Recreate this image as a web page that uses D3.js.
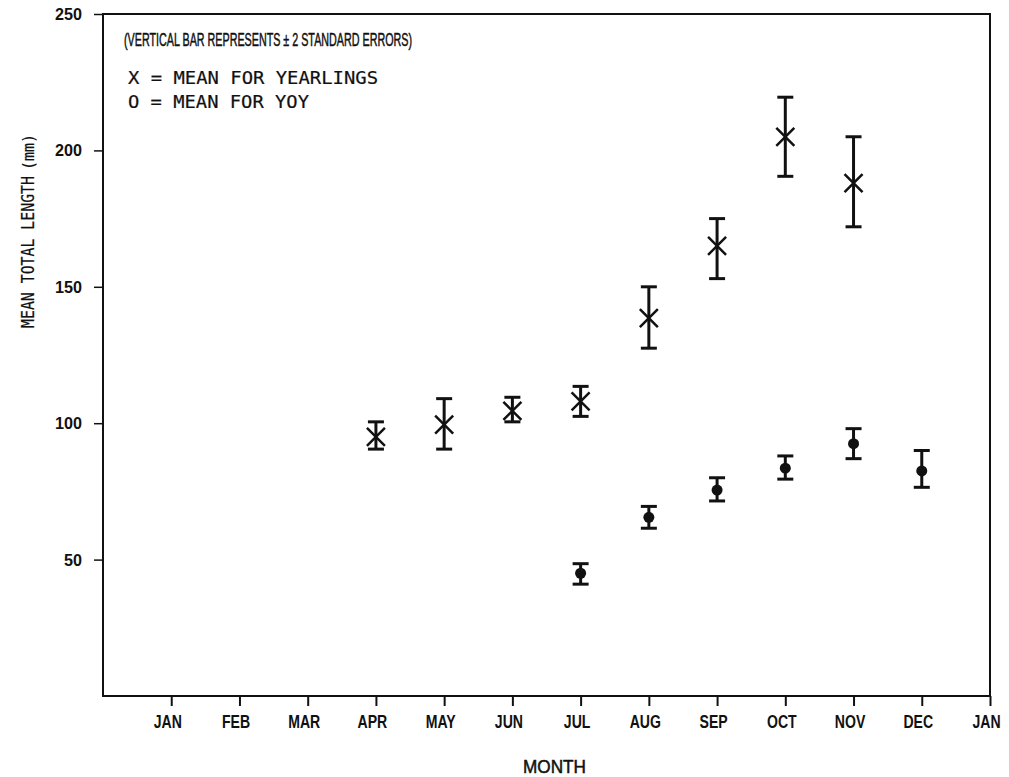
<!DOCTYPE html>
<html>
<head>
<meta charset="utf-8">
<script src="https://cdn.jsdelivr.net/npm/d3@7/dist/d3.min.js"></script>
<style>
  body { margin: 0; background: #fff; }
  text { fill: #111; }
  .inked { stroke: #111; stroke-width: 0.5px; }
  .inked-lite { stroke: #111; stroke-width: 0.2px; }
</style>
</head>
<body>
<svg width="1009" height="777"></svg>
<script>
// month labels along the bottom (12 months + the next JAN)
const months = ['JAN', 'FEB', 'MAR', 'APR', 'MAY', 'JUN', 'JUL', 'AUG', 'SEP', 'OCT', 'NOV', 'DEC', 'JAN'];
const yTicks = [50, 100, 150, 200, 250];

// yearlings (X)
const yearMonths = ['APR', 'MAY', 'JUN', 'JUL', 'AUG', 'SEP', 'OCT', 'NOV'];
const yearMean = [95, 99.5, 104.5, 108, 138.5, 165, 205, 188];
const yearLow = [90.5, 90.5, 100.5, 102.5, 127.5, 153, 190.5, 172];
const yearHigh = [100.5, 109, 109.5, 113.5, 150, 175, 219.5, 205];

// young of year (O)
const yoyMonths = ['JUL', 'AUG', 'SEP', 'OCT', 'NOV', 'DEC'];
const yoyMean = [45, 65.5, 75.5, 83.5, 92.5, 82.5];
const yoyLow = [41, 61.5, 71.5, 79.5, 87, 76.5];
const yoyHigh = [48.5, 69.5, 80, 88, 98, 90];

const svg = d3.select('svg');

const x = d3.scaleLinear().domain([-1, 12]).range([103, 990]);
const y = d3.scaleLinear().domain([0, 250]).range([696, 14]);

const ink = '#111';
const sans = 'Liberation Sans, Arial, sans-serif';
const mono = 'DejaVu Sans Mono, monospace';

// frame
svg.append('rect')
    .attr('x', x(-1))
    .attr('y', y(250))
    .attr('width', x(12) - x(-1))
    .attr('height', y(0) - y(250))
    .attr('fill', 'none')
    .attr('stroke', ink)
    .attr('stroke-width', 2);

// x axis
const xAxis = svg.append('g')
    .attr('transform', `translate(0,${y(0)})`)
    .call(d3.axisBottom(x)
        .tickValues(d3.range(13))
        .tickFormat(i => months[i])
        .tickSize(10)
        .tickPadding(9));
xAxis.select('.domain').remove();
xAxis.selectAll('line').attr('stroke', ink).attr('stroke-width', 2);
xAxis.selectAll('text')
    .attr('fill', ink)
    .attr('dx', -4)
    .style('font-family', sans)
    .style('font-size', '19px')
    .style('font-weight', 'bold')
    .each(function () {
        const w = this.getComputedTextLength();
        d3.select(this).attr('textLength', w * 0.74).attr('lengthAdjust', 'spacingAndGlyphs');
    });

// y axis
const yAxis = svg.append('g')
    .attr('transform', `translate(${x(-1)},0)`)
    .call(d3.axisLeft(y)
        .tickValues(yTicks)
        .tickSize(9)
        .tickPadding(12));
yAxis.select('.domain').remove();
yAxis.selectAll('line').attr('stroke', ink).attr('stroke-width', 1.5);
yAxis.selectAll('text')
    .attr('fill', ink)
    .style('font-family', sans)
    .style('font-size', '17px')
    .style('font-weight', 'bold')
    .each(function () {
        d3.select(this).attr('textLength', 27).attr('lengthAdjust', 'spacingAndGlyphs');
    });
yAxis.selectAll('.tick').filter(d => d === 50).select('text')
    .attr('textLength', 18);

// axis titles
svg.append('text')
    .attr('class', 'inked')
    .attr('x', (x(-1) + x(12)) / 2 + 8)
    .attr('y', 773)
    .attr('text-anchor', 'middle')
    .style('font-family', sans)
    .style('font-size', '18px')
    .attr('textLength', 63)
    .attr('lengthAdjust', 'spacingAndGlyphs')
    .text('MONTH');

const yTitle = svg.append('text')
    .attr('class', 'inked-lite')
    .attr('transform', 'translate(34,328) rotate(-90)')
    .style('font-family', mono)
    .style('font-size', '18px');
yTitle.append('tspan')
    .attr('textLength', 152)
    .attr('lengthAdjust', 'spacingAndGlyphs')
    .text('MEAN TOTAL LENGTH');
yTitle.append('tspan')
    .attr('dx', 6)
    .style('font-size', '15px')
    .text('(mm)');

// legend / notes
svg.append('text')
    .attr('class', 'inked')
    .attr('x', 124)
    .attr('y', 46)
    .style('font-family', sans)
    .style('font-size', '18px')
    .attr('textLength', 288)
    .attr('lengthAdjust', 'spacingAndGlyphs')
    .text('(VERTICAL BAR REPRESENTS \u00b1 2 STANDARD ERRORS)');

svg.append('text')
    .attr('class', 'inked-lite')
    .attr('x', 128)
    .attr('y', 84)
    .style('font-family', mono)
    .style('font-size', '17px')
    .attr('textLength', 250)
    .attr('lengthAdjust', 'spacingAndGlyphs')
    .text('X = MEAN FOR YEARLINGS');

svg.append('text')
    .attr('class', 'inked-lite')
    .attr('x', 128)
    .attr('y', 108)
    .style('font-family', mono)
    .style('font-size', '17px')
    .attr('textLength', 181)
    .attr('lengthAdjust', 'spacingAndGlyphs')
    .text('O = MEAN FOR YOY');

// error bars
function errorBars(cls, monthList, low, high) {
    const g = svg.append('g').attr('class', cls);
    const rows = monthList.map((m, i) => ({ i: months.indexOf(m), lo: low[i], hi: high[i] }));
    g.selectAll('.stem').data(rows).join('line')
        .attr('class', 'stem')
        .attr('x1', d => x(d.i)).attr('x2', d => x(d.i))
        .attr('y1', d => y(d.lo)).attr('y2', d => y(d.hi))
        .attr('stroke', ink).attr('stroke-width', 3);
    ['lo', 'hi'].forEach(k => {
        g.selectAll('.cap-' + k).data(rows).join('line')
            .attr('class', 'cap-' + k)
            .attr('x1', d => x(d.i) - 8).attr('x2', d => x(d.i) + 8)
            .attr('y1', d => y(d[k])).attr('y2', d => y(d[k]))
            .attr('stroke', ink).attr('stroke-width', 3);
    });
}

errorBars('year-bars', yearMonths, yearLow, yearHigh);
errorBars('yoy-bars', yoyMonths, yoyLow, yoyHigh);

// X markers for yearlings
svg.append('g').selectAll('path')
    .data(yearMonths.map((m, i) => ({ i: months.indexOf(m), v: yearMean[i] })))
    .join('path')
    .attr('transform', d => `translate(${x(d.i)},${y(d.v)})`)
    .attr('d', 'M-9,-9L9,9M-9,9L9,-9')
    .attr('fill', 'none')
    .attr('stroke', ink)
    .attr('stroke-width', 2.5);

// dots for YOY
svg.append('g').selectAll('circle')
    .data(yoyMonths.map((m, i) => ({ i: months.indexOf(m), v: yoyMean[i] })))
    .join('circle')
    .attr('cx', d => x(d.i))
    .attr('cy', d => y(d.v))
    .attr('r', 5.5)
    .attr('fill', ink);
</script>
</body>
</html>
